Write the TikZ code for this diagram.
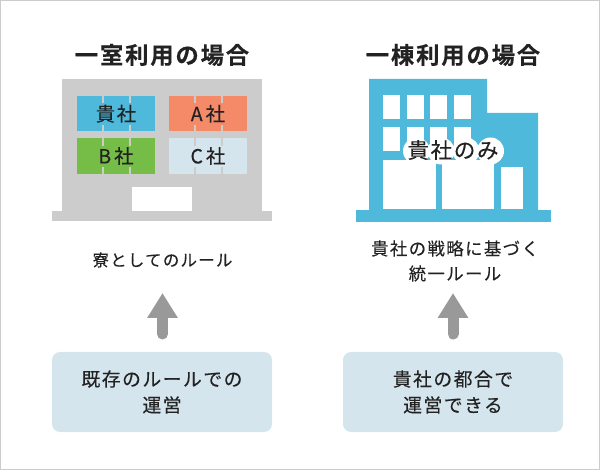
\documentclass[tikz,border=0pt]{standalone}
\usepackage{fontspec}
\usepackage{xcolor}
\usepackage{tikz}
\usetikzlibrary{arrows.meta,positioning}
\newfontfamily\jpfont[LetterSpace=8,FakeBold=0.25,BoldFont={Noto Sans CJK JP Bold}]{Noto Sans CJK JP}
\definecolor{fink}{HTML}{222222}
\definecolor{fgray}{HTML}{CCCCCC}
\definecolor{farrow}{HTML}{999999}
\definecolor{fblue}{HTML}{4FB9DC}
\definecolor{forange}{HTML}{F58A68}
\definecolor{fgreen}{HTML}{76BD47}
\definecolor{fpale}{HTML}{D5E5ED}

\begin{document}
\begin{tikzpicture}[x=1pt,y=-1pt,
  head/.style={font=\jpfont\bfseries\fontsize{23.3}{28}\selectfont,text=fink,inner sep=0pt},
  lbl/.style={font=\jpfont\fontsize{16.4}{25}\selectfont,text=fink,align=center,inner sep=0pt},
  opbox/.style={fill=fpale,rounded corners=8pt,minimum width=220pt,minimum height=80pt,align=center,
                inner sep=0pt,font=\jpfont\fontsize{18.8}{26}\selectfont,text=fink},
  room/.style={minimum width=78pt,minimum height=35.5pt,inner sep=0pt,
               font=\jpfont\fontsize{19.5}{20}\selectfont,text=fink},
  bigarrow/.style={draw=farrow,line width=11pt,line cap=round,-{Triangle[length=25pt,width=29pt]}}]

\useasboundingbox (0,0) rectangle (600,470);
\draw[fgray,line width=1pt] (0.5,0.5) rectangle (599.5,469.5);

% left building
\node[head] (titleL) at (162,55) {一室利用の場合};
\fill[fgray] (62,79) rectangle (262,211);
\fill[fgray] (52,211) rectangle (272,221);
\fill[white] (132,187) rectangle (192,211);
\node[room,fill=fblue] (roomA) at (116,113.75) {貴社};
\node[room,fill=forange] (roomB) at (208,113.75) {A\hspace{3pt}社};
\node[room,fill=fgreen] (roomC) at (116,156) {B\hspace{3pt}社};
\node[room,fill=fpale] (roomD) at (208,156) {C\hspace{3pt}社};
\foreach \x in {102,129,194,221}
  \foreach \ya/\yb in {96/103,125/131.5,138/146,167/174}
    \fill[fgray] (\x,\ya) rectangle (\x+2,\yb);

% right building
\node[head] (titleR) at (453,55) {一棟利用の場合};
\fill[fblue] (369,79) -- (487,79) -- (487,113) -- (538,113) -- (538,210) -- (369,210) -- cycle;
\fill[fblue] (356,210) rectangle (551,222);
\foreach \x in {383,407,430,454}
  \foreach \y in {95,127}
    \fill[white] (\x,\y) rectangle (\x+17,\y+24);
\fill[white] (383,160) rectangle (436,209);
\fill[white] (442,160) rectangle (494,209);
\fill[white] (501,167) rectangle (523,209);
\foreach \x in {416.5,441,466,490.5}
  \fill[white] (\x,151) circle (13.5);
\node[font=\jpfont\fontsize{21.5}{22}\selectfont,text=fink,inner sep=0pt] (only) at (453,150) {貴社のみ};

% rules
\node[lbl] (ruleL) at (162.5,260) {寮としてのルール};
\node[lbl,font=\jpfont\fontsize{17.4}{25}\selectfont] (ruleR) at (455,261) {貴社の戦略に基づく\\統一ルール};

% boxes
\node[opbox] (boxL) at (162,392) {既存のルールでの\\運営};
\node[opbox] (boxR) at (453,392) {貴社の都合で\\運営できる};

\coordinate (tipL) at (162.5,293);
\coordinate (tailL) at (162.5,334);
\coordinate (tipR) at (453,293);
\coordinate (tailR) at (453,334);
\draw[bigarrow] (tailL) -- (tipL);
\draw[bigarrow] (tailR) -- (tipR);
\end{tikzpicture}
\end{document}
